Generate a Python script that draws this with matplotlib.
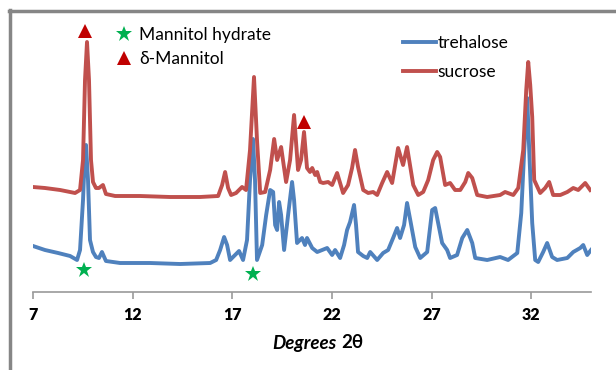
#!/usr/bin/env python3

import matplotlib
matplotlib.use('Agg')
import matplotlib.pyplot as plt
from matplotlib.lines import Line2D

################################################################################

# powder patterns, 2theta in degrees, intensity in arbitrary units (stacked)
sucrose_2theta = [7.00, 7.60, 8.36, 9.11, 9.36, 9.51, 9.61, 9.71, 9.81, 9.91, 10.01, 10.16, 10.31,
	10.51, 10.66, 11.12, 12.37, 13.88, 15.38, 16.29, 16.49, 16.64, 16.79, 16.94, 17.19, 17.49, 17.69,
	17.89, 18.09, 18.24, 18.40, 18.65, 18.90, 19.10, 19.25, 19.45, 19.70, 19.90, 20.10, 20.30, 20.45,
	20.60, 20.75, 20.90, 21.01, 21.16, 21.26, 21.41, 21.56, 21.81, 22.01, 22.26, 22.41, 22.56, 22.81,
	23.01, 23.16, 23.31, 23.57, 23.82, 24.07, 24.27, 24.52, 24.77, 25.02, 25.32, 25.57, 25.77, 26.08,
	26.33, 26.58, 26.83, 27.08, 27.28, 27.43, 27.68, 27.93, 28.18, 28.44, 28.69, 28.84, 29.04, 29.29,
	29.79, 30.44, 30.69, 31.10, 31.35, 31.60, 31.75, 31.85, 31.95, 32.05, 32.15, 32.45, 32.70, 32.90,
	33.10, 33.46, 33.81, 34.11, 34.36, 34.71, 34.96]
sucrose_int = [105, 104, 102, 99, 102, 132, 212, 250, 212, 132, 110, 104, 104,
	107, 98, 96, 96, 95, 95, 96, 107, 120, 104, 97, 99, 105, 102,
	142, 215, 152, 99, 100, 122, 153, 132, 145, 110, 132, 177, 122, 132,
	160, 124, 120, 124, 117, 120, 110, 109, 110, 107, 119, 109, 99, 107,
	124, 142, 125, 102, 99, 100, 97, 109, 120, 109, 144, 127, 145, 107,
	97, 100, 112, 132, 140, 135, 107, 109, 102, 102, 110, 119, 114, 97,
	95, 97, 100, 97, 104, 142, 202, 230, 207, 175, 112, 99, 104, 110,
	97, 97, 100, 104, 102, 109, 102]

trehalose_2theta = [7.00, 7.60, 8.26, 8.86, 9.21, 9.36, 9.51, 9.61, 9.66, 9.76, 9.86, 10.01, 10.16,
	10.31, 10.46, 10.66, 11.37, 12.87, 14.38, 15.89, 16.19, 16.39, 16.59, 16.74, 16.89, 17.14, 17.34,
	17.54, 17.74, 17.89, 18.04, 18.14, 18.24, 18.50, 18.70, 18.90, 19.05, 19.15, 19.25, 19.35, 19.45,
	19.60, 19.80, 20.00, 20.10, 20.25, 20.50, 20.65, 20.75, 21.01, 21.26, 21.51, 21.76, 22.01, 22.16,
	22.41, 22.61, 22.76, 22.91, 23.11, 23.21, 23.31, 23.57, 23.77, 23.92, 24.27, 24.57, 24.82, 25.07,
	25.27, 25.42, 25.62, 25.77, 25.93, 26.18, 26.43, 26.78, 27.03, 27.18, 27.33, 27.53, 27.78, 27.93,
	28.28, 28.54, 28.79, 29.04, 29.19, 29.79, 30.44, 30.84, 31.30, 31.50, 31.65, 31.80, 31.90, 32.05,
	32.20, 32.35, 32.60, 32.80, 33.05, 33.30, 33.81, 34.11, 34.46, 34.61, 34.81, 35.00]
trehalose_int = [46, 42, 39, 36, 32, 42, 92, 142, 147, 112, 52, 40, 35,
	34, 40, 31, 29, 29, 28, 29, 32, 42, 55, 47, 32, 37, 41,
	32, 52, 112, 153, 112, 32, 47, 77, 102, 100, 67, 62, 90, 77,
	42, 77, 110, 92, 49, 54, 47, 54, 44, 40, 42, 44, 37, 42,
	34, 47, 62, 70, 87, 67, 40, 36, 34, 40, 32, 39, 42, 54,
	64, 54, 67, 89, 72, 45, 34, 40, 82, 84, 69, 49, 42, 34,
	37, 54, 62, 49, 34, 32, 35, 32, 39, 79, 142, 194, 142, 69,
	32, 30, 40, 49, 35, 32, 34, 40, 44, 47, 37, 42]

# phase markers
hydrate_2theta = [9.56, 18.04]
hydrate_int = [22, 18]
delta_2theta = [9.61, 20.60]
delta_int = [261, 170]

xticks = [7, 12, 17, 22, 27, 32]

blue = '#4f81bd'
red = '#c0504d'
green = '#00b050'
dark_red = '#c00000'

################################################################################

plt.rcParams['font.family'] = ['Lato', 'DejaVu Sans']

fig = plt.figure(figsize = (6.16, 3.70), dpi = 100)
ax = fig.add_axes([33 / 616, 78 / 370, 558 / 616, 272 / 370])

ax.plot(trehalose_2theta, trehalose_int, color = blue, linewidth = 2.8,
	solid_joinstyle = 'round', label = 'trehalose')
ax.plot(sucrose_2theta, sucrose_int, color = red, linewidth = 2.8,
	solid_joinstyle = 'round', label = 'sucrose')

ax.plot(hydrate_2theta, hydrate_int, linestyle = 'none', marker = '*', markersize = 12,
	color = green, markeredgewidth = 0)
ax.plot(delta_2theta, delta_int, linestyle = 'none', marker = '^', markersize = 10,
	color = dark_red, markeredgewidth = 0)

# axes: only the bottom line with outward ticks
ax.set_xlim(7, 35)
ax.set_ylim(0, 272)
for side in ['left', 'right', 'top']:
	ax.spines[side].set_visible(False)
ax.spines['bottom'].set_color('#9a9a9a')
ax.spines['bottom'].set_linewidth(1.2)
ax.set_yticks([])
ax.set_xticks(xticks)
ax.tick_params(axis = 'x', direction = 'out', length = 5, width = 1.2, color = '#9a9a9a',
	labelsize = 11.5, pad = 6)
for lbl in ax.get_xticklabels():
	lbl.set_fontweight('heavy')

# x label: italic word plus upright symbol
fig.text(337 / 616, 1 - 343 / 370, 'Degrees', ha = 'right', va = 'center',
	fontsize = 13.5, fontweight = 'bold', fontstyle = 'italic')
fig.text(341 / 616, 1 - 343 / 370, '2θ', ha = 'left', va = 'center',
	fontsize = 13.5, fontweight = 'bold')

# legends
marker_handles = [
	Line2D([], [], linestyle = 'none', marker = '*', markersize = 12, color = green, markeredgewidth = 0),
	Line2D([], [], linestyle = 'none', marker = '^', markersize = 10, color = dark_red, markeredgewidth = 0),
]
leg1 = ax.legend(marker_handles, ['Mannitol hydrate', 'δ-Mannitol'], loc = 'upper left',
	bbox_to_anchor = (108 / 616, 1 - 20 / 370), bbox_transform = fig.transFigure,
	frameon = False, fontsize = 12.5, handlelength = 1.0, handletextpad = 0.4, labelspacing = 0.45,
	borderaxespad = 0)
ax.add_artist(leg1)
ax.legend(loc = 'upper left', bbox_to_anchor = (396 / 616, 1 - 28 / 370), bbox_transform = fig.transFigure,
	frameon = False, fontsize = 12.5, handlelength = 1.9, handletextpad = 0.1, labelspacing = 0.78,
	borderaxespad = 0)

# frame lines on the left and top of the figure
fig.add_artist(Line2D([10 / 616, 10 / 616], [0, 1 - 10 / 370], transform = fig.transFigure,
	color = '#868686', linewidth = 2.5))
fig.add_artist(Line2D([9 / 616, 1], [1 - 10.5 / 370, 1 - 10.5 / 370], transform = fig.transFigure,
	color = '#868686', linewidth = 2.5))

fig.savefig('out.png', dpi = 100)
